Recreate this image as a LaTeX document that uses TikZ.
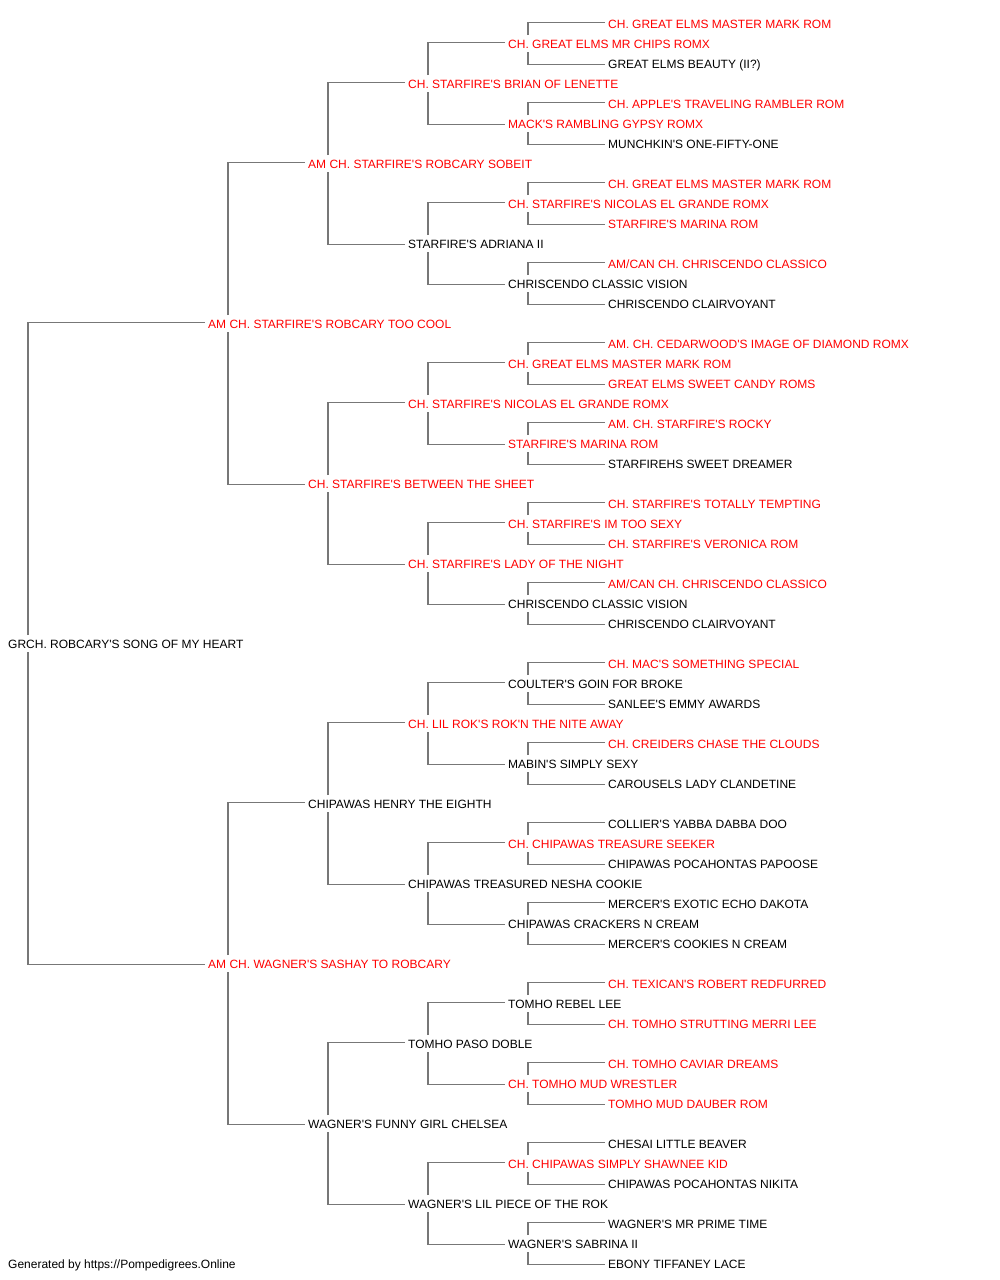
\documentclass[tikz,border=0pt]{standalone}
\usepackage{fontspec}
\setmainfont{Liberation Sans}[Ligatures=TeXOff]
\definecolor{pedred}{HTML}{FF0000}
\definecolor{pedgray}{HTML}{777777}
\newcommand\pedlink[3]{%
  \draw[pedline] ([xshift=23pt]#1.north west) |- ([yshift=1.5pt]#2.west);
  \draw[pedline] ([xshift=23pt]#1.south west) |- ([yshift=-1pt]#3.west);}
\begin{document}
\begin{tikzpicture}[x=1pt,y=-1pt,
  pedbase/.style={anchor=west,yshift=-0.7pt,inner xsep=3pt,inner ysep=4pt,text height=8.6pt,text depth=0pt,font=\fontsize{12}{14}\selectfont},
  rd/.style={pedbase,text=pedred},
  bk/.style={pedbase,text=black},
  pedline/.style={draw=pedgray,line width=1.1pt}]
\useasboundingbox (0,0) rectangle (1000,1280);
% generation 0
\node[bk] (n1) at (5,643) {GRCH. ROBCARY'S SONG OF MY HEART};
% generation 1
\node[rd] (n2) at (205,323) {AM CH. STARFIRE'S ROBCARY TOO COOL};
\node[rd] (n3) at (205,963) {AM CH. WAGNER'S SASHAY TO ROBCARY};
% generation 2
\node[rd] (n4) at (305,163) {AM CH. STARFIRE'S ROBCARY SOBEIT};
\node[rd] (n5) at (305,483) {CH. STARFIRE'S BETWEEN THE SHEET};
\node[bk] (n6) at (305,803) {CHIPAWAS HENRY THE EIGHTH};
\node[bk] (n7) at (305,1123) {WAGNER'S FUNNY GIRL CHELSEA};
% generation 3
\node[rd] (n8) at (405,83) {CH. STARFIRE'S BRIAN OF LENETTE};
\node[bk] (n9) at (405,243) {STARFIRE'S ADRIANA II};
\node[rd] (n10) at (405,403) {CH. STARFIRE'S NICOLAS EL GRANDE ROMX};
\node[rd] (n11) at (405,563) {CH. STARFIRE'S LADY OF THE NIGHT};
\node[rd] (n12) at (405,723) {CH. LIL ROK'S ROK'N THE NITE AWAY};
\node[bk] (n13) at (405,883) {CHIPAWAS TREASURED NESHA COOKIE};
\node[bk] (n14) at (405,1043) {TOMHO PASO DOBLE};
\node[bk] (n15) at (405,1203) {WAGNER'S LIL PIECE OF THE ROK};
% generation 4
\node[rd] (n16) at (505,43) {CH. GREAT ELMS MR CHIPS ROMX};
\node[rd] (n17) at (505,123) {MACK'S RAMBLING GYPSY ROMX};
\node[rd] (n18) at (505,203) {CH. STARFIRE'S NICOLAS EL GRANDE ROMX};
\node[bk] (n19) at (505,283) {CHRISCENDO CLASSIC VISION};
\node[rd] (n20) at (505,363) {CH. GREAT ELMS MASTER MARK ROM};
\node[rd] (n21) at (505,443) {STARFIRE'S MARINA ROM};
\node[rd] (n22) at (505,523) {CH. STARFIRE'S IM TOO SEXY};
\node[bk] (n23) at (505,603) {CHRISCENDO CLASSIC VISION};
\node[bk] (n24) at (505,683) {COULTER'S GOIN FOR BROKE};
\node[bk] (n25) at (505,763) {MABIN'S SIMPLY SEXY};
\node[rd] (n26) at (505,843) {CH. CHIPAWAS TREASURE SEEKER};
\node[bk] (n27) at (505,923) {CHIPAWAS CRACKERS N CREAM};
\node[bk] (n28) at (505,1003) {TOMHO REBEL LEE};
\node[rd] (n29) at (505,1083) {CH. TOMHO MUD WRESTLER};
\node[rd] (n30) at (505,1163) {CH. CHIPAWAS SIMPLY SHAWNEE KID};
\node[bk] (n31) at (505,1243) {WAGNER'S SABRINA II};
% generation 5
\node[rd] (n32) at (605,23) {CH. GREAT ELMS MASTER MARK ROM};
\node[bk] (n33) at (605,63) {GREAT ELMS BEAUTY (II?)};
\node[rd] (n34) at (605,103) {CH. APPLE'S TRAVELING RAMBLER ROM};
\node[bk] (n35) at (605,143) {MUNCHKIN'S ONE-FIFTY-ONE};
\node[rd] (n36) at (605,183) {CH. GREAT ELMS MASTER MARK ROM};
\node[rd] (n37) at (605,223) {STARFIRE'S MARINA ROM};
\node[rd] (n38) at (605,263) {AM/CAN CH. CHRISCENDO CLASSICO};
\node[bk] (n39) at (605,303) {CHRISCENDO CLAIRVOYANT};
\node[rd] (n40) at (605,343) {AM. CH. CEDARWOOD'S IMAGE OF DIAMOND ROMX};
\node[rd] (n41) at (605,383) {GREAT ELMS SWEET CANDY ROMS};
\node[rd] (n42) at (605,423) {AM. CH. STARFIRE'S ROCKY};
\node[bk] (n43) at (605,463) {STARFIREHS SWEET DREAMER};
\node[rd] (n44) at (605,503) {CH. STARFIRE'S TOTALLY TEMPTING};
\node[rd] (n45) at (605,543) {CH. STARFIRE'S VERONICA ROM};
\node[rd] (n46) at (605,583) {AM/CAN CH. CHRISCENDO CLASSICO};
\node[bk] (n47) at (605,623) {CHRISCENDO CLAIRVOYANT};
\node[rd] (n48) at (605,663) {CH. MAC'S SOMETHING SPECIAL};
\node[bk] (n49) at (605,703) {SANLEE'S EMMY AWARDS};
\node[rd] (n50) at (605,743) {CH. CREIDERS CHASE THE CLOUDS};
\node[bk] (n51) at (605,783) {CAROUSELS LADY CLANDETINE};
\node[bk] (n52) at (605,823) {COLLIER'S YABBA DABBA DOO};
\node[bk] (n53) at (605,863) {CHIPAWAS POCAHONTAS PAPOOSE};
\node[bk] (n54) at (605,903) {MERCER'S EXOTIC ECHO DAKOTA};
\node[bk] (n55) at (605,943) {MERCER'S COOKIES N CREAM};
\node[rd] (n56) at (605,983) {CH. TEXICAN'S ROBERT REDFURRED};
\node[rd] (n57) at (605,1023) {CH. TOMHO STRUTTING MERRI LEE};
\node[rd] (n58) at (605,1063) {CH. TOMHO CAVIAR DREAMS};
\node[rd] (n59) at (605,1103) {TOMHO MUD DAUBER ROM};
\node[bk] (n60) at (605,1143) {CHESAI LITTLE BEAVER};
\node[bk] (n61) at (605,1183) {CHIPAWAS POCAHONTAS NIKITA};
\node[bk] (n62) at (605,1223) {WAGNER'S MR PRIME TIME};
\node[bk] (n63) at (605,1263) {EBONY TIFFANEY LACE};
% footer
\node[bk] (foot) at (5,1263) {Generated by https://Pompedigrees.Online};
% connectors
\pedlink{n1}{n2}{n3}
\pedlink{n2}{n4}{n5}
\pedlink{n3}{n6}{n7}
\pedlink{n4}{n8}{n9}
\pedlink{n5}{n10}{n11}
\pedlink{n6}{n12}{n13}
\pedlink{n7}{n14}{n15}
\pedlink{n8}{n16}{n17}
\pedlink{n9}{n18}{n19}
\pedlink{n10}{n20}{n21}
\pedlink{n11}{n22}{n23}
\pedlink{n12}{n24}{n25}
\pedlink{n13}{n26}{n27}
\pedlink{n14}{n28}{n29}
\pedlink{n15}{n30}{n31}
\pedlink{n16}{n32}{n33}
\pedlink{n17}{n34}{n35}
\pedlink{n18}{n36}{n37}
\pedlink{n19}{n38}{n39}
\pedlink{n20}{n40}{n41}
\pedlink{n21}{n42}{n43}
\pedlink{n22}{n44}{n45}
\pedlink{n23}{n46}{n47}
\pedlink{n24}{n48}{n49}
\pedlink{n25}{n50}{n51}
\pedlink{n26}{n52}{n53}
\pedlink{n27}{n54}{n55}
\pedlink{n28}{n56}{n57}
\pedlink{n29}{n58}{n59}
\pedlink{n30}{n60}{n61}
\pedlink{n31}{n62}{n63}
\end{tikzpicture}
\end{document}
